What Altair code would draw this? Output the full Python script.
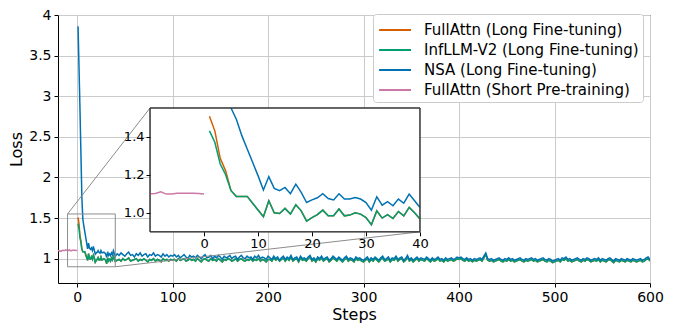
import altair as alt
import pandas as pd

SERIES = ["FullAttn (Long Fine-tuning)", "InfLLM-V2 (Long Fine-tuning)",
          "NSA (Long Fine-tuning)", "FullAttn (Short Pre-training)"]
COLORS = ["#D55E00", "#009E73", "#0072B2", "#CC79A7"]

X_DOMAIN = [-20, 600]
Y_DOMAIN = [0.7, 4.0]
X_TICKS = [0, 100, 200, 300, 400, 500, 600]
Y_TICKS = [1, 1.5, 2, 2.5, 3, 3.5, 4]

ZOOM_X = [-10, 40]
ZOOM_Y = [0.9, 1.55]
INSET_X_TICKS = [0, 10, 20, 30, 40]
INSET_Y_TICKS = [1.0, 1.2, 1.4]
# where the inset sits, in main-plot data units
INSET_AT_X = [76.4, 359.1]
INSET_AT_Y = [1.33, 2.855]

PRE_STEPS = list(range(-20, 1))
PRE_LOSS = [1.100, 1.098, 1.094, 1.090, 1.098, 1.104, 1.100, 1.099, 1.108, 1.104,
            1.100, 1.101, 1.110, 1.098, 1.098, 1.102, 1.103, 1.103, 1.102, 1.101, 1.099]

HEAD_STEPS = list(range(1, 41))
ORANGE_HEAD = [1.507, 1.43, 1.286, 1.22, 1.116, 1.086, 1.086, 1.086]
GREEN_HEAD = [1.43, 1.37, 1.256, 1.20, 1.116, 1.086, 1.086, 1.086, 1.05, 1.015,
              0.979, 1.063, 1.0, 0.996, 1.023, 0.993, 1.042, 1.01, 0.956, 0.975,
              0.99, 1.014, 0.984, 0.984, 1.02, 0.984, 0.988, 1.0, 0.993, 0.975,
              0.937, 1.01, 0.972, 0.99, 0.97, 1.007, 0.984, 1.028, 1.0, 0.967]
BLUE_HEAD = [3.86, 3.35, 2.85, 2.30, 1.75, 1.49, 1.405, 1.335, 1.265, 1.195,
             1.12, 1.19, 1.128, 1.116, 1.133, 1.10, 1.15, 1.107, 1.054, 1.068,
             1.079, 1.10, 1.075, 1.067, 1.10, 1.072, 1.072, 1.08, 1.072, 1.054,
             1.014, 1.084, 1.04, 1.058, 1.037, 1.072, 1.05, 1.098, 1.063, 1.028]

TAIL_STEPS = list(range(42, 601, 2))
BLUE_TAIL = [
    1.06, 1.04, 1.07, 1.05, 1.03, 1.06, 1.08, 1.04, 1.05, 1.02,
    1.06, 1.04, 1.07, 1.03, 1.05, 1.06, 1.02, 1.05, 1.04, 1.07,
    1.03, 1.05, 1.04, 1.02, 1.06, 1.03, 1.05, 1.02, 1.04, 1.03,
    1.05, 1.02, 1.04, 1.01, 1.03, 1.05, 1.02, 1.00, 1.04, 1.02,
    1.03, 1.01, 1.04, 1.02, 1.00, 1.03, 1.05, 1.01, 1.02, 1.04,
    1.00, 1.03, 1.01, 1.04, 1.02, 0.99, 1.03, 1.01, 1.02, 1.04,
    1.00, 1.02, 1.03, 0.99, 1.02, 1.04, 1.01, 1.00, 1.03, 1.01,
    1.02, 0.99, 1.03, 1.01, 1.04, 1.00, 1.02, 1.01, 0.99, 1.03,
    1.01, 0.99, 1.03, 1.00, 1.02, 0.98, 1.01, 1.03, 0.99, 1.02,
    1.00, 1.04, 0.99, 1.01, 1.02, 0.98, 1.03, 1.00, 1.01, 0.99,
    1.02, 1.04, 0.99, 1.01, 0.98, 1.02, 1.00, 1.03, 0.99, 1.01,
    1.02, 0.98, 1.00, 1.03, 1.01, 0.99, 1.02, 1.00, 0.98, 1.01,
    1.03, 0.99, 1.01, 1.00, 0.98, 1.02, 1.00, 1.01, 0.99, 0.98,
    1.00, 1.02, 0.98, 1.01, 0.99, 1.02, 1.00, 0.98, 1.01, 1.03,
    0.99, 1.00, 1.02, 0.98, 1.01, 1.00, 1.03, 0.99, 1.01, 1.02,
    0.98, 1.00, 1.04, 0.99, 1.01, 0.98, 1.00, 1.02, 0.99, 1.01,
    1.00, 0.99, 1.02, 1.00, 0.98, 1.01, 0.99, 1.00, 1.02, 0.99,
    1.00, 0.98, 1.01, 0.99, 1.00, 1.01, 0.99, 1.00, 1.02, 1.01,
    1.02, 1.00, 0.99, 1.01, 0.99, 1.00, 0.98, 1.00, 0.99, 1.00,
    1.01, 0.99, 1.03, 1.07, 1.00, 0.99, 1.00, 0.98, 0.99, 1.00,
    1.01, 0.99, 0.98, 1.00, 0.99, 1.01, 0.99, 1.00, 0.98, 0.99,
    1.00, 1.01, 0.99, 0.98, 1.00, 0.99, 1.00, 1.01, 0.99, 1.00,
    0.98, 0.99, 1.00, 1.01, 0.99, 0.98, 1.00, 0.99, 0.97, 0.98,
    0.99, 1.00, 0.98, 1.01, 1.00, 1.02, 0.99, 1.00, 0.98, 0.99,
    1.00, 1.01, 0.99, 0.98, 1.00, 0.99, 1.01, 1.00, 0.98, 0.99,
    1.00, 0.99, 1.01, 0.98, 1.00, 0.99, 0.98, 1.00, 1.01, 0.99,
    0.97, 1.00, 0.99, 0.98, 1.00, 0.99, 0.98, 1.00, 0.99, 0.98,
    1.00, 0.99, 0.98, 0.99, 1.00, 0.98, 0.99, 1.01, 1.02, 0.99,
]
GREEN_TAIL = [
    0.98, 0.99, 0.97, 1.00, 0.98, 0.99, 1.01, 0.97, 0.98, 0.99,
    1.00, 0.97, 0.99, 0.98, 1.00, 0.98, 0.96, 0.99, 0.98, 1.00,
    0.97, 0.99, 0.98, 0.96, 1.00, 0.98, 0.99, 0.97, 0.99, 0.98,
    0.99, 0.97, 1.00, 0.98, 0.99, 1.00, 0.97, 0.98, 1.00, 0.98,
    0.99, 0.97, 1.00, 0.98, 0.96, 0.99, 1.00, 0.98, 0.97, 1.00,
    0.98, 0.99, 0.97, 1.00, 0.98, 0.96, 0.99, 0.98, 1.00, 0.99,
    0.97, 0.98, 1.00, 0.97, 0.99, 1.00, 0.98, 0.97, 0.99, 0.98,
    1.00, 0.97, 0.99, 0.98, 1.00, 0.97, 0.99, 0.98, 0.96, 0.99,
    0.99, 0.97, 1.01, 0.98, 1.00, 0.97, 0.99, 1.01, 0.97, 1.00,
    0.98, 1.02, 0.97, 0.99, 1.00, 0.96, 1.01, 0.98, 0.99, 0.97,
    1.00, 1.02, 0.97, 0.99, 0.96, 1.00, 0.98, 1.01, 0.97, 0.99,
    1.00, 0.96, 0.98, 1.01, 0.99, 0.97, 1.00, 0.98, 0.96, 0.99,
    1.01, 0.97, 0.99, 0.98, 0.96, 1.00, 0.98, 0.99, 0.97, 0.96,
    0.98, 1.00, 0.96, 0.99, 0.97, 1.00, 0.98, 0.96, 0.99, 1.01,
    0.97, 0.98, 1.00, 0.96, 0.99, 0.98, 1.01, 0.97, 0.99, 1.00,
    0.96, 0.98, 1.02, 0.97, 0.99, 0.96, 0.98, 1.00, 0.97, 0.99,
    0.98, 0.97, 1.00, 0.98, 0.96, 0.99, 0.97, 0.98, 1.00, 0.97,
    0.98, 0.96, 0.99, 0.97, 0.98, 0.99, 0.97, 0.98, 1.00, 0.99,
    1.00, 0.98, 0.97, 0.99, 0.97, 0.98, 0.96, 0.98, 0.97, 0.98,
    0.99, 0.97, 1.01, 1.05, 0.98, 0.97, 0.98, 0.96, 0.97, 0.98,
    0.99, 0.97, 0.96, 0.98, 0.97, 0.99, 0.97, 0.98, 0.96, 0.97,
    0.98, 0.99, 0.97, 0.96, 0.98, 0.97, 0.98, 0.99, 0.97, 0.98,
    0.96, 0.97, 0.98, 0.99, 0.97, 0.96, 0.98, 0.97, 0.95, 0.96,
    0.97, 0.98, 0.96, 0.99, 0.98, 1.00, 0.97, 0.98, 0.96, 0.97,
    0.98, 0.99, 0.97, 0.96, 0.98, 0.97, 0.99, 0.98, 0.96, 0.97,
    0.98, 0.97, 0.99, 0.96, 0.98, 0.97, 0.96, 0.98, 0.99, 0.97,
    0.95, 0.98, 0.97, 0.96, 0.98, 0.97, 0.96, 0.98, 0.97, 0.96,
    0.98, 0.97, 0.96, 0.97, 0.98, 0.96, 0.97, 0.99, 1.00, 0.97,
]

# ---- assemble long table ----
rows = []
def add(name, color, steps, vals):
    for s, v in zip(steps, vals):
        rows.append({"step": s, "loss": v, "series": name, "hex": color})

orange_vals = ORANGE_HEAD + GREEN_HEAD[len(ORANGE_HEAD):] + GREEN_TAIL
add(SERIES[0], COLORS[0], HEAD_STEPS + TAIL_STEPS, orange_vals)
add(SERIES[1], COLORS[1], HEAD_STEPS + TAIL_STEPS, GREEN_HEAD + GREEN_TAIL)
add(SERIES[2], COLORS[2], HEAD_STEPS + TAIL_STEPS, BLUE_HEAD + BLUE_TAIL)
add(SERIES[3], COLORS[3], PRE_STEPS, PRE_LOSS)
df = pd.DataFrame(rows)

# inset data: only the zoom window (blue enters from above the window)
inset_df = df[(df["step"] >= ZOOM_X[0]) & (df["step"] <= ZOOM_X[1])]
inset_df = inset_df[~((inset_df["series"] == SERIES[2]) & (inset_df["step"] < 5))]

FONT = "DejaVu Sans"
W, H = 592, 268

def px(x):
    return (x - X_DOMAIN[0]) / (X_DOMAIN[1] - X_DOMAIN[0]) * W

def py(y):
    return (Y_DOMAIN[1] - y) / (Y_DOMAIN[1] - Y_DOMAIN[0]) * H

xs = alt.Scale(domain=X_DOMAIN, nice=False, zero=False)
ys = alt.Scale(domain=Y_DOMAIN, nice=False, zero=False)
xaxis = alt.Axis(values=X_TICKS, title="Steps", labelFontSize=14, titleFontSize=16,
                 grid=True, gridColor="#cbcbcb", gridWidth=1, tickSize=4, labelPadding=3,
                 titlePadding=2, domain=False, labelFlush=False, zindex=0,
                 titleFontWeight="normal")
yaxis = alt.Axis(values=Y_TICKS, title="Loss", format="~g", labelFontSize=14,
                 titleFontSize=16, grid=True, gridColor="#cbcbcb", gridWidth=1,
                 tickSize=4, labelPadding=3, titlePadding=4, domain=False,
                 labelFlush=False, zindex=0, titleFontWeight="normal")

legend = alt.Legend(orient="none", legendX=315, legendY=-1, title=None,
                    symbolType="M-0.9,0H2", symbolSize=484, symbolStrokeWidth=2,
                    symbolFillColor="transparent",
                    labelFontSize=15, labelFont=FONT, labelOffset=23, labelLimit=400,
                    fillColor="white", strokeColor="#cccccc", cornerRadius=3,
                    padding=4, rowPadding=0, symbolOpacity=1)

main_lines = alt.Chart(df).mark_line(strokeWidth=1.5, clip=True).encode(
    x=alt.X("step:Q", scale=xs, axis=xaxis),
    y=alt.Y("loss:Q", scale=ys, axis=yaxis),
    color=alt.Color("series:N", scale=alt.Scale(domain=SERIES, range=COLORS), legend=legend),
)

zoom_box = pd.DataFrame([{"step": ZOOM_X[0], "step2": ZOOM_X[1],
                          "loss": ZOOM_Y[0], "loss2": ZOOM_Y[1]}])
zoom_rect = alt.Chart(zoom_box).mark_rect(fillOpacity=0, stroke="#8c8c8c", strokeWidth=1).encode(
    x=alt.X("step:Q", scale=xs, axis=xaxis), x2="step2:Q",
    y=alt.Y("loss:Q", scale=ys, axis=yaxis), y2="loss2:Q")

conn = pd.DataFrame([
    {"step": ZOOM_X[0], "loss": ZOOM_Y[1], "step2": INSET_AT_X[0], "loss2": INSET_AT_Y[1]},
    {"step": ZOOM_X[1], "loss": ZOOM_Y[0], "step2": INSET_AT_X[1], "loss2": INSET_AT_Y[0]},
])
connectors = alt.Chart(conn).mark_rule(color="#8c8c8c", strokeWidth=1).encode(
    x=alt.X("step:Q", scale=xs, axis=xaxis), x2="step2:Q",
    y=alt.Y("loss:Q", scale=ys, axis=yaxis), y2="loss2:Q")

inset_box = pd.DataFrame([{"step": INSET_AT_X[0], "step2": INSET_AT_X[1],
                           "loss": INSET_AT_Y[0], "loss2": INSET_AT_Y[1]}])
inset_bg = alt.Chart(inset_box).mark_rect(fill="white", stroke="#333333", strokeWidth=1).encode(
    x=alt.X("step:Q", scale=xs, axis=xaxis), x2="step2:Q",
    y=alt.Y("loss:Q", scale=ys, axis=yaxis), y2="loss2:Q")

main_layer = alt.layer(main_lines, zoom_rect, connectors, inset_bg)

# ---- inset ----
ixs = alt.Scale(domain=ZOOM_X, range=[px(INSET_AT_X[0]), px(INSET_AT_X[1])], nice=False, zero=False)
iys = alt.Scale(domain=ZOOM_Y, range=[py(INSET_AT_Y[0]), py(INSET_AT_Y[1])], nice=False,
                zero=False, clamp=True)
ixaxis = alt.Axis(orient="bottom", offset=-(H - py(INSET_AT_Y[0])), values=INSET_X_TICKS,
                  title=None, grid=False, domain=False, tickSize=4, labelFontSize=13,
                  labelPadding=2, labelFlush=False, zindex=1)
iyaxis = alt.Axis(orient="left", offset=-px(INSET_AT_X[0]), values=INSET_Y_TICKS,
                  format=".1f", title=None, grid=False, domain=False, tickSize=4,
                  labelFontSize=13, labelPadding=2, labelFlush=False, zindex=1)

inset_lines = alt.Chart(inset_df).mark_line(strokeWidth=1.5).encode(
    x=alt.X("step:Q", scale=ixs, axis=ixaxis),
    y=alt.Y("loss:Q", scale=iys, axis=iyaxis),
    color=alt.Color("hex:N", scale=None),
    detail="series:N",
)
frame_df = pd.DataFrame([{"step": ZOOM_X[0], "step2": ZOOM_X[1],
                          "loss": ZOOM_Y[0], "loss2": ZOOM_Y[1]}])
inset_frame = alt.Chart(frame_df).mark_rect(fillOpacity=0, stroke="#333333", strokeWidth=1).encode(
    x=alt.X("step:Q", scale=ixs, axis=ixaxis), x2="step2:Q",
    y=alt.Y("loss:Q", scale=iys, axis=iyaxis), y2="loss2:Q")

inset_layer = alt.layer(inset_lines, inset_frame)

chart = alt.layer(main_layer, inset_layer).resolve_scale(
    x="independent", y="independent"
).properties(
    width=W, height=H,
    autosize=alt.AutoSizeParams(type="none"),
    padding={"left": 50, "top": 7, "right": 14, "bottom": 40},
).configure_view(
    stroke="black", strokeWidth=1
).configure_axis(
    labelFont=FONT, titleFont=FONT, labelColor="black", titleColor="black",
    tickColor="black", domainColor="black"
)

chart.save("out.html", embed_options={"renderer": "svg", "actions": False})
